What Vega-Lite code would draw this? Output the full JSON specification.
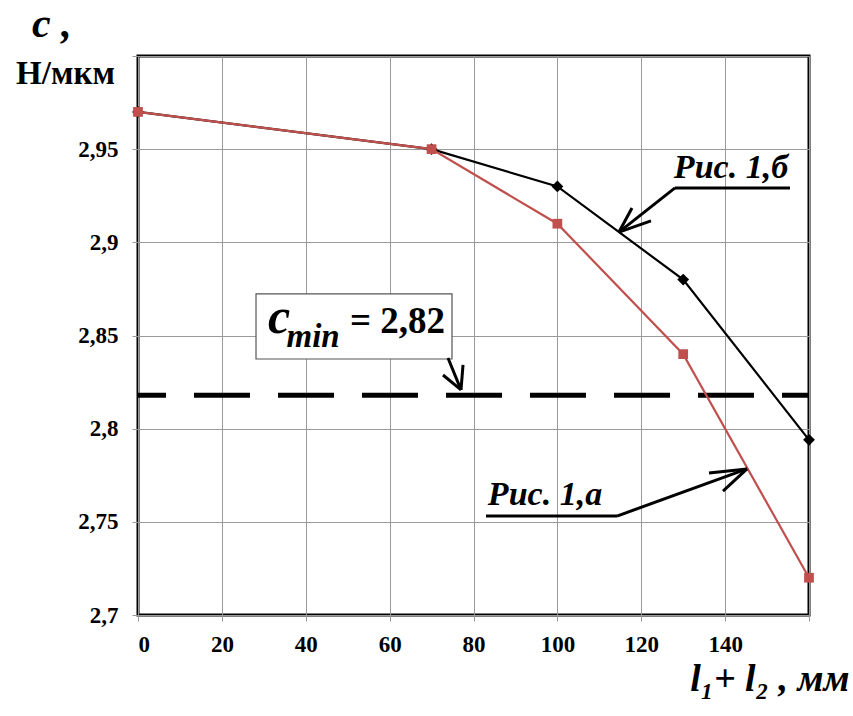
{
  "$schema": "https://vega.github.io/schema/vega-lite/v6.json",
  "width": 671,
  "height": 559,
  "autosize": "none",
  "padding": {"left": 138, "top": 56, "right": 44, "bottom": 101},
  "background": "white",
  "title": {"text": "c ,", "anchor": "start", "frame": "group", "font": "Liberation Serif, Times New Roman, serif", "fontSize": 42, "fontStyle": "italic", "fontWeight": "bold", "color": "black", "dx": -106, "dy": 41, "offset": 18, "baseline": "alphabetic"},
  "config": {
    "view": {"stroke": "black", "strokeWidth": 3},
    "axis": {
      "labelFont": "Liberation Serif, Times New Roman, serif", "labelFontWeight": "bold", "labelFontSize": 23, "labelColor": "black",
      "titleFont": "Liberation Serif, Times New Roman, serif", "titleFontWeight": "bold", "titleColor": "black",
      "gridColor": "#9a9a9a", "gridWidth": 1, "tickColor": "#9a9a9a", "tickSize": 6, "domain": false
    }
  },
  "encoding": {
    "x": {"field": "x", "type": "quantitative",
      "scale": {"domain": [0, 160], "nice": false, "zero": false},
      "axis": {"values": [0, 20, 40, 60, 80, 100, 120, 140, 160], "labelExpr": "datum.value > 150 ? '' : datum.label", "labelPadding": 12,
        "title": "l₁+ l₂ , мм", "titleFontSize": 38, "titleFontStyle": "italic", "titleAlign": "right", "titleAnchor": "end", "titleX": 711, "titleY": 75, "titleBaseline": "alphabetic"}},
    "y": {"field": "y", "type": "quantitative",
      "scale": {"domain": [2.7, 3.0], "nice": false, "zero": false},
      "axis": {"values": [2.7, 2.75, 2.8, 2.85, 2.9, 2.95, 3.0], "labelExpr": "datum.value > 2.99 ? '' : replace(format(datum.value, '.2~f'), '.', ',')", "labelPadding": 14,
        "title": "Н/мкм", "titleFontSize": 33, "titleAngle": 0, "titleAlign": "center", "titleX": -73, "titleY": 27, "titleBaseline": "alphabetic"}}
  },
  "layer": [
    {
      "data": {"values": [{"x": 28.14, "x2": 74.87, "y": 2.8723, "y2": 2.8374}]},
      "mark": {"type": "rect", "fill": "white", "stroke": "#555555", "strokeWidth": 1.2},
      "encoding": {"x2": {"field": "x2"}, "y2": {"field": "y2"}}
    },
    {
      "data": {"values": [{"x": 0, "x2": 160, "y": 2.818}]},
      "mark": {"type": "rule", "color": "black", "strokeWidth": 5, "strokeDash": [56, 28], "strokeDashOffset": 28},
      "encoding": {"x2": {"field": "x2"}}
    },
    {
      "data": {"values": [
        {"x": 0, "y": 2.97}, {"x": 70, "y": 2.95}, {"x": 100, "y": 2.93}, {"x": 130, "y": 2.88}, {"x": 160, "y": 2.794}
      ]},
      "mark": {"type": "line", "color": "black", "strokeWidth": 2.2, "point": {"shape": "diamond", "size": 140, "color": "black", "filled": true}}
    },
    {
      "data": {"values": [
        {"x": 0, "y": 2.97}, {"x": 70, "y": 2.95}, {"x": 100, "y": 2.91}, {"x": 130, "y": 2.84}, {"x": 160, "y": 2.72}
      ]},
      "mark": {"type": "line", "color": "#C0504D", "strokeWidth": 2.2, "point": {"shape": "square", "size": 95, "color": "#C0504D", "filled": true}}
    },
    {
      "data": {"values": [
        {"x": 128.05, "y": 2.9292, "x2": 155.47, "y2": 2.9292},
        {"x": 128.05, "y": 2.9292, "x2": 114.69, "y2": 2.9055},
        {"x": 114.69, "y": 2.9055, "x2": 117.79, "y2": 2.9184},
        {"x": 114.69, "y": 2.9055, "x2": 122.32, "y2": 2.9115},
        {"x": 82.98, "y": 2.7531, "x2": 114.22, "y2": 2.7531},
        {"x": 114.22, "y": 2.7531, "x2": 145.22, "y2": 2.7784},
        {"x": 145.22, "y": 2.7784, "x2": 136.15, "y2": 2.7762},
        {"x": 145.22, "y": 2.7784, "x2": 139.49, "y2": 2.7665},
        {"x": 73.92, "y": 2.8379, "x2": 77.02, "y2": 2.8208},
        {"x": 77.02, "y": 2.8208, "x2": 72.73, "y2": 2.8288},
        {"x": 77.02, "y": 2.8208, "x2": 77.5, "y2": 2.8342}
      ]},
      "mark": {"type": "rule", "color": "black", "strokeWidth": 3},
      "encoding": {"x2": {"field": "x2"}, "y2": {"field": "y2"}}
    },
    {
      "data": {"values": [
        {"x": 141.4, "y": 2.9345, "t": "Рис. 1,б"},
        {"x": 97.05, "y": 2.759, "t": "Рис. 1,а"}
      ]},
      "mark": {"type": "text", "font": "Liberation Serif, Times New Roman, serif", "fontSize": 34, "fontStyle": "italic", "fontWeight": "bold", "color": "black", "align": "center", "baseline": "alphabetic"},
      "encoding": {"text": {"field": "t"}}
    },
    {
      "data": {"values": [{"x": 31.0, "y": 2.8513, "t": "c"}]},
      "mark": {"type": "text", "font": "Liberation Serif, Times New Roman, serif", "fontSize": 50, "fontStyle": "italic", "fontWeight": "bold", "color": "black", "align": "left", "baseline": "alphabetic"},
      "encoding": {"text": {"field": "t"}}
    },
    {
      "data": {"values": [{"x": 35.4, "y": 2.8438, "t": "min"}]},
      "mark": {"type": "text", "font": "Liberation Serif, Times New Roman, serif", "fontSize": 33, "fontStyle": "italic", "fontWeight": "bold", "color": "black", "align": "left", "baseline": "alphabetic"},
      "encoding": {"text": {"field": "t"}}
    },
    {
      "data": {"values": [{"x": 73.2, "y": 2.8513, "t": "= 2,82"}]},
      "mark": {"type": "text", "font": "Liberation Serif, Times New Roman, serif", "fontSize": 37, "fontWeight": "bold", "color": "black", "align": "right", "baseline": "alphabetic"},
      "encoding": {"text": {"field": "t"}}
    }
  ]
}
